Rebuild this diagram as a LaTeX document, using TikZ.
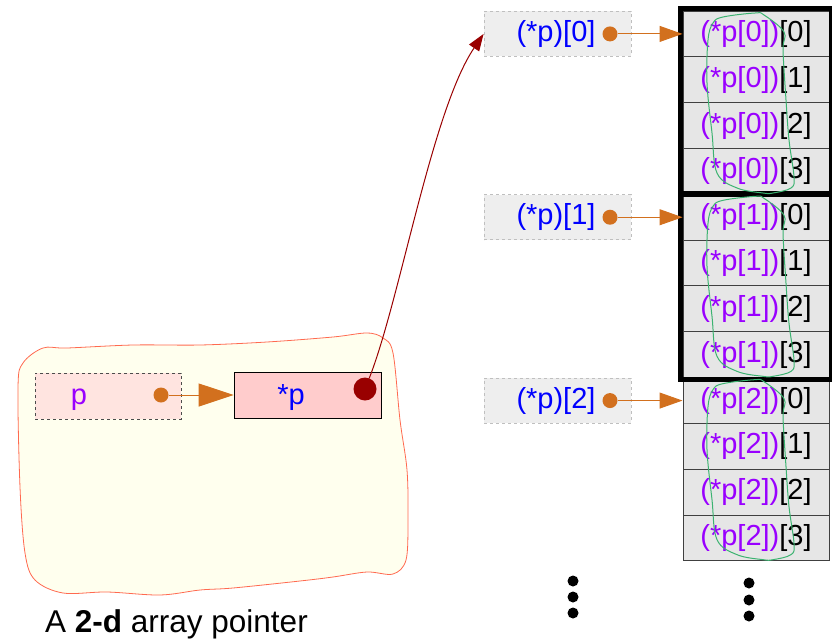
\documentclass[tikz,border=0pt]{standalone}
\usepackage{fontspec}
\setmainfont{Liberation Sans}
\usetikzlibrary{arrows.meta}
\definecolor{pviolet}{HTML}{9900FF}
\definecolor{pblue}{HTML}{0000FF}
\definecolor{porange}{HTML}{D2701E}
\definecolor{pdarkred}{HTML}{990000}
\definecolor{pgreen}{HTML}{3CB371}
\definecolor{blobline}{HTML}{FF6A50}
\definecolor{blobfill}{HTML}{FFFFEE}
\definecolor{pfill}{HTML}{FFE4E0}
\definecolor{spfill}{HTML}{FFCCCC}
\definecolor{cellfill}{HTML}{E6E6E6}
\definecolor{qfill}{HTML}{EEEEEE}
\begin{document}
\begin{tikzpicture}[x={(1pt,0pt)}, y={(0pt,-1pt)},
  big/.style={font=\fontsize{29}{34}\selectfont},
  cell/.style={big, draw=black!75, fill=cellfill, line width=1pt, minimum width=146pt, minimum height=45.83pt, inner sep=0pt},
  qbox/.style={big, text=pblue, draw=black!25, dashed, line width=0.8pt, fill=qfill, minimum width=147pt, minimum height=45pt, inner sep=0pt},
  odot/.style={circle, fill=porange, inner sep=0pt, minimum size=15pt},
  oarrow/.style={porange, line width=1pt, -{Triangle[length=23pt,width=16pt]}},
  edot/.style={circle, fill=black, inner sep=0pt, minimum size=11pt},
  thickgrp/.style={line width=5pt, black},
  loop/.style={pgreen, line width=1pt},
]
\useasboundingbox (0,0) rectangle (832,640);

% blob
\draw[blobline, fill=blobfill, line width=0.8pt] plot[smooth cycle, tension=0.55] coordinates {
 (18,387) (23,363) (43,348) (67,348) (133,345) (200,345) (267,342) (333,337) (367,333) (383,338) (393,353)
 (400,420) (407,470) (408,520) (406,560) (393,574) (367,572) (333,577) (300,581) (233,588) (200,590)
 (160,595) (107,592) (63,593) (35,580) (25,553) (20,487)};

% p and *p
\node[draw=black!70, dashed, line width=1pt, fill=pfill, minimum width=146pt, minimum height=46pt, inner sep=0pt] (pbox) at (108,396) {};
\node[big, text=pviolet, inner sep=0pt] (ptext) at (79,400) {p};
\node[draw=black, line width=0.8pt, fill=spfill, minimum width=147pt, minimum height=46pt, inner sep=0pt] (spbox) at (307.5,395) {};
\node[big, text=pblue, inner sep=0pt] (sptext) at (291,398) {*p};
\node[circle, fill=pdarkred, minimum size=23pt, inner sep=0pt] (rdot) at (365,389) {};
\node[odot] (pdot) at (161,395) {};
\draw[porange, line width=1pt, -{Triangle[length=35pt,width=23pt]}] (pdot) -- (spbox.west);

% cells
\foreach \g in {0,1,2} {
  \foreach \c in {0,...,3} {
    \pgfmathsetmacro\yy{11+45.83*(4*\g+\c)+22.92}
    \node[cell] (c\g\c) at (756,\yy) {\textcolor{pviolet}{(*p[\g])}[\c]};
  }
}
\draw[thickgrp] ([xshift=-2pt,yshift=2pt]c00.north west) rectangle ([xshift=1.5pt]c03.south east);
\draw[thickgrp] ([xshift=-2pt]c10.north west) rectangle ([xshift=1.5pt,yshift=-1pt]c13.south east);

% green loops
\foreach \g in {0,1,2} {
  \pgfmathsetmacro\t{11+183.33*\g}
  \draw[loop] plot[smooth cycle, tension=0.6] coordinates {
    (755,\t+2) (764,\t+4) (784,\t+21) (783,\t+39) (786,\t+89) (789,\t+129) (794,\t+166) (791,\t+177)
    (773,\t+182) (763,\t+182) (737,\t+177) (717,\t+162) (712,\t+122) (707,\t+72) (708,\t+29) (713,\t+12) (723,\t+6)};
}

% (*p)[k] boxes
\foreach \g in {0,1,2} {
  \pgfmathsetmacro\yy{11+45.83*(4*\g)+22.92}
  \node[qbox] (q\g) at (557.5,\yy) {(*p)[\g]\hspace*{3pt}};
  \node[odot] (d\g) at (610,\yy) {};
  \draw[oarrow] (d\g) -- (c\g0.west);
}

% curve to (*p)[0]
\draw[pdarkred, line width=1pt, -{Triangle[length=17pt,width=12pt]}] (rdot) .. controls (400,300) and (432,110) .. (q0.west);

% ellipsis dots
\node[edot] (e1) at (573,581) {};
\node[edot] (e2) at (573,597) {};
\node[edot] (e3) at (573,613) {};
\node[edot] (f1) at (749,583) {};
\node[edot] (f2) at (749,600) {};
\node[edot] (f3) at (749,616) {};

% caption
\node[font=\fontsize{31.5}{38}\selectfont, anchor=base west, inner sep=0pt] (cap) at (45,632) {A \textbf{2-d} array pointer};
\end{tikzpicture}
\end{document}
